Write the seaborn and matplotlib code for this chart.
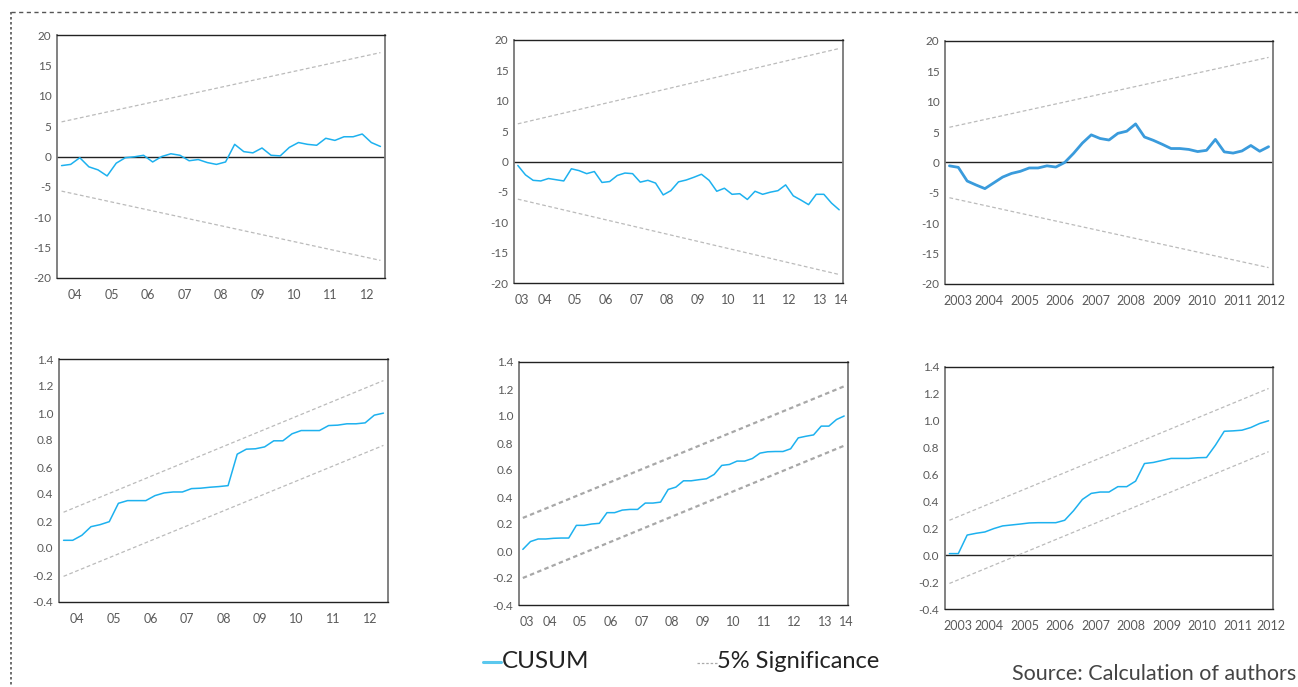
import numpy as np
import pandas as pd
import matplotlib
matplotlib.use("Agg")
import matplotlib.pyplot as plt
import matplotlib.transforms as mtransforms
from matplotlib.lines import Line2D
import seaborn as sns

# Quarterly samples of the three models
start_a, count_a = "2004Q1", 36
start_b, count_b = "2003Q3", 43
start_c, count_c = "2003Q2", 37

# CUSUM series
cusum_a = [-1.5, -1.3, -0.2, -1.7, -2.2, -3.2, -1.1, -0.2, -0.05, 0.2, -0.9, 0.0,
           0.45, 0.2, -0.7, -0.5, -1.0, -1.3, -0.9, 2.0, 0.8, 0.6, 1.4, 0.2,
           0.1, 1.5, 2.3, 2.0, 1.85, 3.0, 2.65, 3.25, 3.25, 3.7, 2.3, 1.65]
cusum_b = [-0.65, -2.2, -3.1, -3.2, -2.8, -3.0, -3.2, -1.2, -1.5, -2.0, -1.65, -3.45,
           -3.3, -2.3, -1.9, -2.0, -3.4, -3.1, -3.55, -5.5, -4.8, -3.35, -3.05, -2.6,
           -2.1, -3.1, -4.9, -4.4, -5.4, -5.3, -6.25, -4.9, -5.4, -5.05, -4.8, -3.85,
           -5.65, -6.35, -7.1, -5.4, -5.4, -6.85, -7.95]
cusum_c = [-0.55, -0.8, -3.05, -3.7, -4.3, -3.35, -2.4, -1.8, -1.45, -0.9, -0.9, -0.55,
           -0.75, 0.0, 1.5, 3.2, 4.55, 3.95, 3.7, 4.8, 5.15, 6.35, 4.2, 3.65,
           3.0, 2.3, 2.3, 2.15, 1.8, 2.0, 3.8, 1.75, 1.55, 1.9, 2.8, 1.85, 2.6]

# CUSUM of squares series
cusumsq_a = [0.057, 0.057, 0.094, 0.158, 0.173, 0.195, 0.331, 0.351, 0.351, 0.351, 0.388, 0.408,
             0.415, 0.415, 0.44, 0.443, 0.45, 0.455, 0.462, 0.695, 0.732, 0.735, 0.749, 0.794,
             0.794, 0.846, 0.87, 0.87, 0.87, 0.907, 0.91, 0.92, 0.92, 0.927, 0.984, 0.999]
cusumsq_b = [0.012, 0.07, 0.089, 0.089, 0.094, 0.096, 0.096, 0.19, 0.19, 0.2, 0.205, 0.284,
             0.284, 0.303, 0.308, 0.308, 0.355, 0.355, 0.362, 0.456, 0.473, 0.52, 0.52, 0.528,
             0.535, 0.567, 0.634, 0.641, 0.666, 0.666, 0.685, 0.725, 0.735, 0.737, 0.737, 0.757,
             0.838, 0.85, 0.86, 0.925, 0.925, 0.974, 1.0]
cusumsq_c = [0.012, 0.012, 0.15, 0.163, 0.173, 0.198, 0.218, 0.225, 0.232, 0.24, 0.242, 0.242,
             0.242, 0.26, 0.331, 0.415, 0.46, 0.47, 0.47, 0.51, 0.51, 0.551, 0.682, 0.69,
             0.705, 0.72, 0.72, 0.72, 0.725, 0.727, 0.818, 0.922, 0.925, 0.93, 0.95, 0.98, 1.0]

# 5% significance bounds: (first, last) values
sig_a = (5.7, 17.1)
sig_b = (6.2, 18.6)
sig_c = (5.8, 17.3)
sq_upper_a, sq_lower_a = (0.265, 1.24), (-0.21, 0.76)
sq_upper_b, sq_lower_b = (0.245, 1.22), (-0.20, 0.78)
sq_upper_c, sq_lower_c = (0.26, 1.24), (-0.21, 0.77)

CYAN = "#1DB1EF"
GRAY = "#BBBBBB"
TXT = "#5A5A5A"


def quarter_x(start, n):
    q = pd.period_range(start, periods=n, freq="Q")
    return np.array(q.year + (q.quarter - 0.5) / 4.0)


def style_axis(ax, x, four_digit, ylim, yticks, yfmt):
    x0, x1 = x[0] - 0.125, x[-1] + 0.125
    ax.set_xlim(x0, x1)
    ax.set_ylim(*ylim)
    ax.set_yticks(yticks)
    ax.set_yticklabels([yfmt.format(v) for v in yticks])
    years = np.arange(int(np.floor(x0)), int(np.ceil(x1)))
    ax.set_xticks([y for y in years if x0 < y < x1])
    ax.set_xticklabels([])
    quarters = np.arange(np.ceil(x0 * 4), np.floor(x1 * 4) + 1) / 4
    ax.set_xticks(quarters, minor=True)
    ax.tick_params(axis="x", which="major", direction="out", length=6, width=1, color="#333333")
    ax.tick_params(axis="x", which="minor", direction="out", length=3, width=1, color="#333333")
    ax.tick_params(axis="y", direction="out", length=3, width=1, color="#333333",
                   labelsize=8.5, labelcolor=TXT, pad=1)
    trans = mtransforms.blended_transform_factory(ax.transData, ax.transAxes)
    for y in years:
        c = (max(y, x0) + min(y + 1, x1)) / 2
        if y + 1 > x1:  # partial last year: label sits near the right edge
            c = max(c, x1 - 0.05)
        lab = str(y) if four_digit else f"{y % 100:02d}"
        ax.text(c, -0.045, lab, transform=trans, ha="center", va="top",
                fontsize=9, color=TXT)
    for side in ["top", "bottom"]:
        ax.spines[side].set_color("#222222")
        ax.spines[side].set_linewidth(1)
    for side in ["left", "right"]:
        ax.spines[side].set_color("#777777")
        ax.spines[side].set_linewidth(1.3)
    ax.set_xlabel("")
    ax.set_ylabel("")


sns.set_theme(style="white")
plt.rcParams["font.family"] = ["Lato", "DejaVu Sans"]

W, H = 1298, 687
fig = plt.figure(figsize=(W / 100, H / 100), dpi=100)


def add_ax(left, right, top, bottom):
    return fig.add_axes([left / W, 1 - bottom / H, (right - left) / W, (bottom - top) / H])


boxes = [(57, 385, 35, 278), (514, 843, 40, 283), (945, 1273, 41, 284),
         (59, 388, 359, 602), (519, 848, 362, 605), (945, 1273, 367, 609)]
panels = [
    (start_a, count_a, cusum_a, (sig_a[0], sig_a[1]), (-sig_a[0], -sig_a[1]), "cusum", False),
    (start_b, count_b, cusum_b, (sig_b[0], sig_b[1]), (-sig_b[0], -sig_b[1]), "cusum", False),
    (start_c, count_c, cusum_c, (sig_c[0], sig_c[1]), (-sig_c[0], -sig_c[1]), "cusum", True),
    (start_a, count_a, cusumsq_a, sq_upper_a, sq_lower_a, "sq", False),
    (start_b, count_b, cusumsq_b, sq_upper_b, sq_lower_b, "sq", False),
    (start_c, count_c, cusumsq_c, sq_upper_c, sq_lower_c, "sq", True),
]

for i, (box, (start, n, vals, up, lo, kind, four)) in enumerate(zip(boxes, panels)):
    ax = add_ax(*box)
    x = quarter_x(start, n)
    df = pd.DataFrame({"x": x, "value": vals})
    ends = pd.DataFrame({"x": [x[0], x[-1]], "upper": list(up), "lower": list(lo)})
    if i == 4:
        sig_kw = dict(color="#A8A8A8", linewidth=1.6, linestyle=(0, (2, 1.5)))
    else:
        sig_kw = dict(color=GRAY, linewidth=0.9, linestyle=(0, (3, 2)))
    sns.lineplot(data=ends, x="x", y="upper", ax=ax, **sig_kw)
    sns.lineplot(data=ends, x="x", y="lower", ax=ax, **sig_kw)
    if i in (0, 1, 2, 5):
        ax.axhline(0, color="#222222", linewidth=1, zorder=1)
    if i == 2:
        sns.lineplot(data=df, x="x", y="value", ax=ax, color="#3A9BDC", linewidth=2)
    else:
        sns.lineplot(data=df, x="x", y="value", ax=ax, color=CYAN, linewidth=1.1)
    if kind == "cusum":
        style_axis(ax, x, four, (-20, 20), np.arange(-20, 21, 5), "{:d}")
    else:
        style_axis(ax, x, four, (-0.4, 1.4), np.round(np.arange(-0.4, 1.41, 0.2), 1), "{:.1f}")

# dotted outer frame (top and left edges)
frame_kw = dict(color="#555555", linewidth=1, linestyle=(0, (3, 2.5)), transform=fig.transFigure)
fig.add_artist(Line2D([11 / W, 1.0], [1 - 12 / H, 1 - 12 / H], **frame_kw))
fig.add_artist(Line2D([11 / W, 11 / W], [1 - 12 / H, 0.0], color="#555555", linewidth=1.2,
                      linestyle=(0, (1.5, 1.5)), transform=fig.transFigure))

# legend and source note
fig.add_artist(Line2D([483 / W, 501 / W], [1 - 662 / H, 1 - 662 / H], color="#5BC8EE",
                      linewidth=2.2, transform=fig.transFigure))
fig.text(502 / W, 1 - 668 / H, "CUSUM", fontsize=17.5, color="#222222",
         va="baseline", ha="left")
fig.add_artist(Line2D([697 / W, 717 / W], [1 - 663 / H, 1 - 663 / H], color="#AAAAAA",
                      linewidth=0.9, linestyle=(0, (2, 1.5)), transform=fig.transFigure))
fig.text(717 / W, 1 - 668 / H, "5% Significance", fontsize=17, color="#222222",
         va="baseline", ha="left")
fig.text(1296 / W, 1 - 680 / H, "Source: Calculation of authors", fontsize=15.5, color="#444444",
         va="baseline", ha="right")

fig.savefig("out.png", dpi=100)
